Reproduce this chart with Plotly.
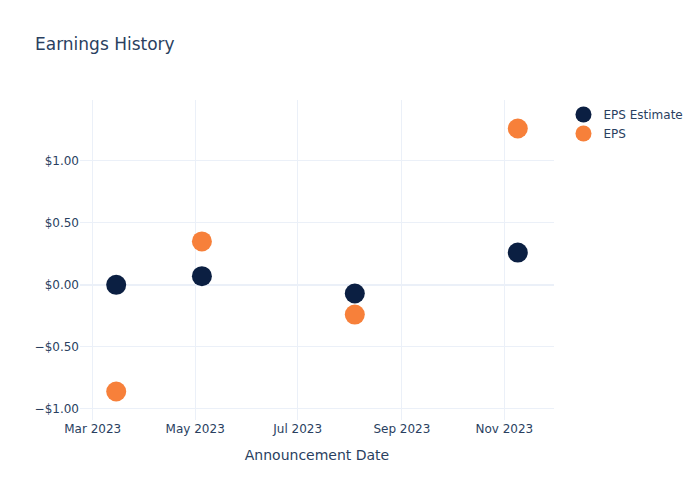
import plotly.graph_objects as go

dates = ["2023-03-15", "2023-05-05", "2023-08-04", "2023-11-09"]
eps_estimate = [0.00, 0.07, -0.07, 0.26]
eps_actual = [-0.86, 0.35, -0.24, 1.26]

fig = go.Figure()
fig.add_trace(go.Scatter(x=dates, y=eps_estimate, mode="markers", name="EPS Estimate",
                         marker=dict(color="#0B1F42", size=20)))
fig.add_trace(go.Scatter(x=dates, y=eps_actual, mode="markers", name="EPS",
                         marker=dict(color="#F7803A", size=20)))
fig.update_layout(template="plotly_white", width=700, height=500,
                  font=dict(family="DejaVu Sans"),
                  title="Earnings History",
                  xaxis_title="Announcement Date")
fig.update_yaxes(tickformat="$.2f")
fig.write_html("out.html")
